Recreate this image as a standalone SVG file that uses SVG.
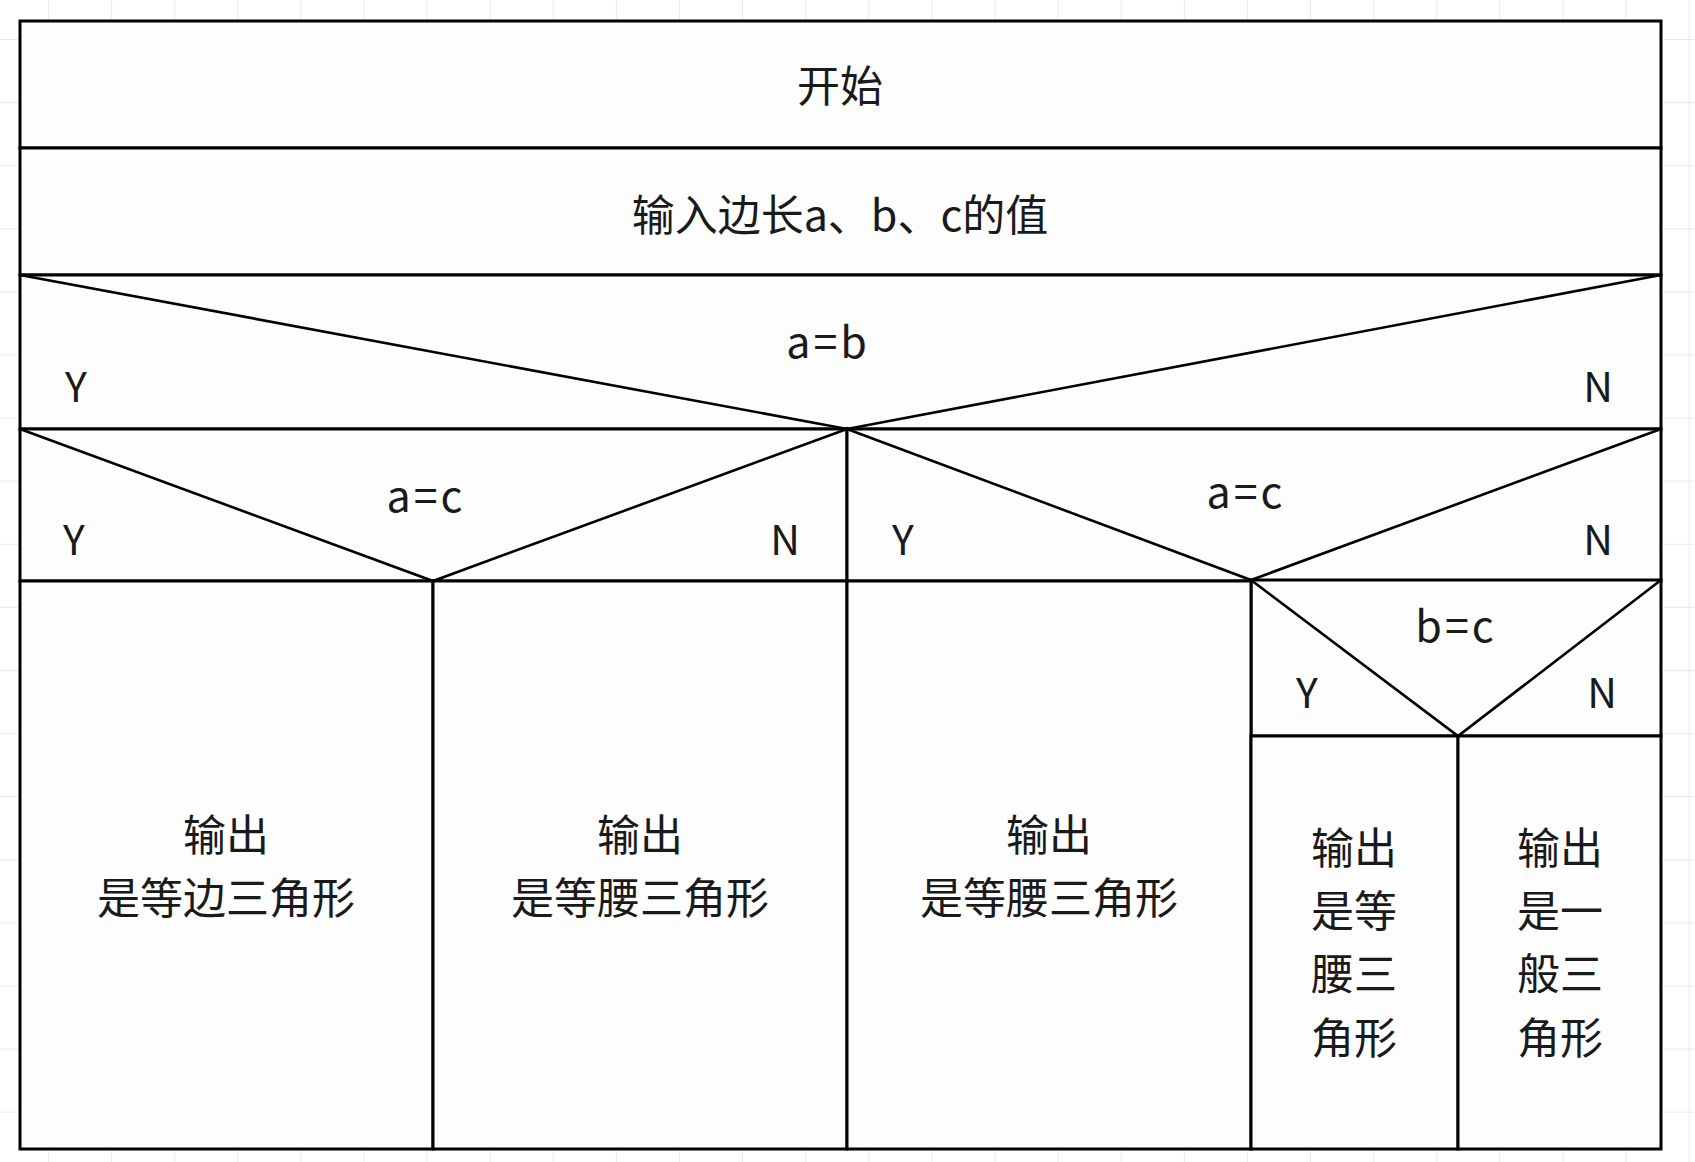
<svg xmlns="http://www.w3.org/2000/svg" width="1695" height="1162" viewBox="0 0 1695 1162">
<defs>
<pattern id="grid" x="48" y="39" width="63.1" height="63.1" patternUnits="userSpaceOnUse">
<path d="M0 0 H63.1 M0 0 V63.1" fill="none" stroke="#e4e4e4" stroke-width="1.5"/>
</pattern>
<style>
.cell{fill:#fdfdfd;stroke:#000;stroke-width:3}
.ln{stroke:#000;stroke-width:2.6;fill:none;stroke-linecap:round}
text{font-family:"Noto Sans CJK SC","Noto Sans",sans-serif;font-size:43px;fill:#1a1a1a;text-anchor:middle}
.eq{letter-spacing:3px}
.yn{font-size:41px}
</style>
</defs>
<rect x="0" y="0" width="1695" height="1162" fill="#ffffff"/>
<rect x="0" y="0" width="1695" height="1162" fill="url(#grid)"/>
<rect x="20" y="21" width="1641" height="1128" fill="#fdfdfd"/>

<g id="start">
<rect class="cell" x="20" y="21" width="1641" height="127"/>
<text x="840" y="102">开始</text>
</g>
<g id="input">
<rect class="cell" x="20" y="148" width="1641" height="127"/>
<text x="840" y="231">输入边长a、b、c的值</text>
</g>
<g id="cond-ab">
<rect class="cell" x="20" y="275" width="1641" height="154"/>
<path class="ln" d="M20 275 L847 429 L1661 275"/>
<text class="eq" x="828" y="358">a=b</text>
<text class="yn" x="76" y="402">Y</text>
<text class="yn" x="1598" y="402">N</text>
</g>
<g id="cond-ac-left">
<rect class="cell" x="20" y="429" width="827" height="152"/>
<path class="ln" d="M20 429 L433 581 L847 429"/>
<text class="eq" x="426" y="512">a=c</text>
<text class="yn" x="74" y="555">Y</text>
<text class="yn" x="785" y="555">N</text>
</g>
<g id="cond-ac-right">
<rect class="cell" x="847" y="429" width="814" height="152"/>
<path class="ln" d="M847 429 L1251 580 L1661 429"/>
<text class="eq" x="1246" y="508">a=c</text>
<text class="yn" x="903" y="555">Y</text>
<text class="yn" x="1598" y="555">N</text>
</g>
<g id="cond-bc">
<rect class="cell" x="1251" y="580" width="410" height="156"/>
<path class="ln" d="M1251 580 L1458 736 L1661 580"/>
<text class="eq" x="1456" y="642">b=c</text>
<text class="yn" x="1307" y="708">Y</text>
<text class="yn" x="1602" y="708">N</text>
</g>
<g id="out-equilateral">
<rect class="cell" x="20" y="581" width="413" height="568"/>
<text x="226" y="851">输出</text>
<text x="226" y="914">是等边三角形</text>
</g>
<g id="out-isosceles-1">
<rect class="cell" x="433" y="581" width="414" height="568"/>
<text x="640" y="851">输出</text>
<text x="640" y="914">是等腰三角形</text>
</g>
<g id="out-isosceles-2">
<rect class="cell" x="847" y="581" width="404" height="568"/>
<text x="1049" y="851">输出</text>
<text x="1049" y="914">是等腰三角形</text>
</g>
<g id="out-isosceles-3">
<rect class="cell" x="1251" y="736" width="207" height="413"/>
<text x="1354" y="864">输出</text>
<text x="1354" y="927">是等</text>
<text x="1354" y="990">腰三</text>
<text x="1354" y="1054">角形</text>
</g>
<g id="out-general">
<rect class="cell" x="1458" y="736" width="203" height="413"/>
<text x="1560" y="864">输出</text>
<text x="1560" y="927">是一</text>
<text x="1560" y="990">般三</text>
<text x="1560" y="1054">角形</text>
</g>
<g id="connectors"></g>
</svg>
